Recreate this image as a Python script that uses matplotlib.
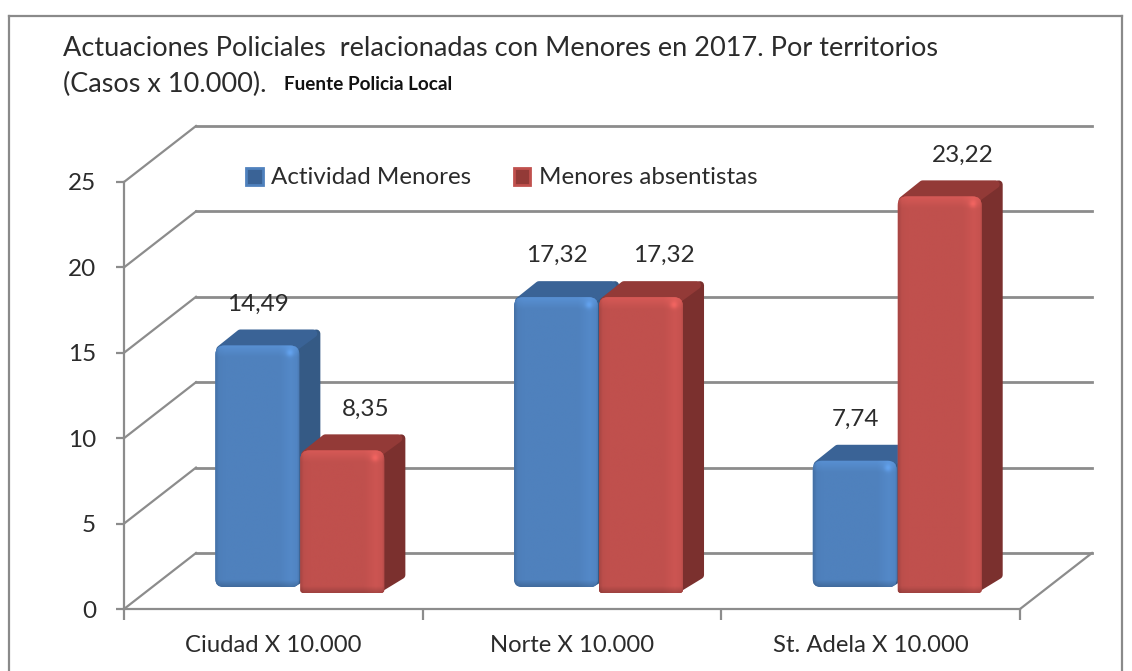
import numpy as np
import matplotlib
matplotlib.use("Agg")
import matplotlib.pyplot as plt
from matplotlib.lines import Line2D
from matplotlib.patches import PathPatch, Patch, Polygon
from matplotlib.path import Path

categories = ["Ciudad X 10.000", "Norte X 10.000", "St. Adela X 10.000"]
actividad = [14.49, 17.32, 7.74]
absentistas = [8.35, 17.32, 23.22]
actividad_labels = ["14,49", "17,32", "7,74"]
absentistas_labels = ["8,35", "17,32", "23,22"]
y_ticks = [0, 5, 10, 15, 20, 25]

W, H = 1132, 671
AX_L, AX_R, AX_T, AX_B = 124, 1020, 182, 609  # axes box in px

plt.rcParams['font.family'] = ['Lato', 'DejaVu Sans']

PX_X = 3.0 / (AX_R - AX_L)  # data units per px
PX_Y = 25.0 / (AX_B - AX_T)

WALL_X, WALL_Y = 72 * PX_X, 56 * PX_Y  # depth of the walls
BAR_X, BAR_Y = 21 * PX_X, 16 * PX_Y  # depth of one bar
BASE = 16 * PX_Y  # bars stand this far back on the floor
BAR_W = 84 * PX_X
GRID = "#8c8c8c"
TXT = "#2b2b2b"


def rounded(x0, x1, y0, y1, r_top, r_bot):
    # rounded box, radius in px
    tx, ty = r_top * PX_X, r_top * PX_Y
    bx, by = r_bot * PX_X, r_bot * PX_Y
    verts = [(x0 + bx, y0), (x1 - bx, y0), (x1, y0), (x1, y0 + by),
             (x1, y1 - ty), (x1, y1), (x1 - tx, y1),
             (x0 + tx, y1), (x0, y1), (x0, y1 - ty),
             (x0, y0 + by), (x0, y0), (x0 + bx, y0), (x0 + bx, y0)]
    codes = [Path.MOVETO, Path.LINETO, Path.CURVE3, Path.CURVE3,
             Path.LINETO, Path.CURVE3, Path.CURVE3,
             Path.LINETO, Path.CURVE3, Path.CURVE3,
             Path.LINETO, Path.CURVE3, Path.CURVE3, Path.CLOSEPOLY]
    return Path(verts, codes)


def shading(rgb, w, h):
    # soft bevel on the front face, with the small glint near the top right corner
    nx, ny = 170, 300
    u = (np.arange(nx) + 0.5) / nx * w
    v = (np.arange(ny) + 0.5) / ny * h  # from the top
    fx = np.interp(u, [0, 4, 10, w - 20, w - 8, w - 2, w], [0.86, 0.98, 1, 1, 1.06, 1.03, 0.94])
    fy = np.interp(v, [0, 3, 12, h - 7, h], [1.12, 1.09, 1, 1, 0.82])
    uu, vv = np.meshgrid(u, v)
    glint = 0.16 * np.exp(-((uu - (w - 9)) ** 2 + (vv - 8) ** 2) / 14.0)
    img = np.zeros((ny, nx, 3))
    for c in range(3):
        img[:, :, c] = np.clip(rgb[c] * (np.outer(fy, fx) + glint), 0, 1)
    return img


def draw_bar(ax, x, value, front, top, side, r_bot, lift, z):
    x1 = x + BAR_W
    y0 = BASE
    y1 = BASE + value
    # side and top faces, thick round edges give the soft corners
    ax.add_patch(Polygon([(x1 - 6 * PX_X, y0 + lift + 4 * PX_Y), (x1 + BAR_X - 4 * PX_X, y0 + BAR_Y + lift + 2 * PX_Y),
                          (x1 + BAR_X - 4 * PX_X, y1 + BAR_Y - 4 * PX_Y), (x1 - 6 * PX_X, y1 - 8 * PX_Y)],
                         closed=True, fc=side, ec=side, lw=5.8, joinstyle="round",
                         clip_on=False, zorder=z))
    ax.add_patch(Polygon([(x + 5 * PX_X, y1 - 4 * PX_Y), (x + BAR_X + 4 * PX_X, y1 + BAR_Y - 4 * PX_Y),
                          (x1 + BAR_X - 7 * PX_X, y1 + BAR_Y - 4 * PX_Y), (x1 - 8 * PX_X, y1 - 4 * PX_Y)],
                         closed=True, fc=top, ec=top, lw=5.8, joinstyle="round",
                         clip_on=False, zorder=z + 0.1))
    # front face with its bevel
    path = rounded(x, x1, y0 + lift, y1, 9, r_bot)
    patch = PathPatch(path, fc=front, ec="none", clip_on=False, zorder=z + 0.2)
    ax.add_patch(patch)
    rgb = matplotlib.colors.to_rgb(front)
    im = ax.imshow(shading(rgb, BAR_W / PX_X, (y1 - y0 - lift) / PX_Y),
                   extent=(x, x1, y0 + lift, y1), aspect="auto",
                   origin="upper", zorder=z + 0.3)
    im.set_clip_path(patch)


fig = plt.figure(figsize=(W / 100, H / 100), dpi=100)
fig.patch.set_facecolor("white")
ax = fig.add_axes([AX_L / W, 1 - AX_B / H, (AX_R - AX_L) / W, (AX_B - AX_T) / H])
ax.set_facecolor("none")
ax.set_autoscale_on(False)
ax.set_xlim(-0.5, 2.5)
ax.set_ylim(0, 25)

# outer frame of the chart
for xs, ys in [([9, 9], [16, 671]), ([9, 1122], [16, 16]), ([1122, 1122], [16, 671])]:
    fig.add_artist(Line2D([x / W for x in xs], [1 - y / H for y in ys], color="#8a8a8a", lw=1.6))

# walls and grid
for v in y_ticks:
    ax.plot([-0.5 + WALL_X, 2.5 + WALL_X], [v + WALL_Y, v + WALL_Y], color=GRID, lw=2, clip_on=False, zorder=1)
    ax.plot([-0.5, -0.5 + WALL_X], [v, v + WALL_Y], color=GRID, lw=1.6, clip_on=False, zorder=1)
ax.plot([2.5, 2.5 + WALL_X], [0, WALL_Y], color=GRID, lw=1.6, clip_on=False, zorder=1)

# bars
for i in range(len(categories)):
    draw_bar(ax, i - 58 * PX_X, actividad[i], "#4F81BD", "#3A6396", "#355A85", 8, 6 * PX_Y, 3)
    draw_bar(ax, i + 27 * PX_X, absentistas[i], "#C0504D", "#933A37", "#7B302E", 3, 0, 4)
    ax.text(i - 58 * PX_X + BAR_W / 2 + 1 * PX_X, BASE + actividad[i] + 41.5 * PX_Y, actividad_labels[i],
            ha="center", va="center", fontsize=17.5, color=TXT, zorder=6)
    ax.text(i + 27 * PX_X + BAR_W / 2 + 23 * PX_X, BASE + absentistas[i] + 41.5 * PX_Y, absentistas_labels[i],
            ha="center", va="center", fontsize=17.5, color=TXT, zorder=6)

ax.set_xlim(-0.5, 2.5)
ax.set_ylim(0, 25)

# axes
for s in ["top", "right"]:
    ax.spines[s].set_visible(False)
for s in ["left", "bottom"]:
    ax.spines[s].set_color(GRID)
    ax.spines[s].set_linewidth(1.6)
ax.set_yticks(y_ticks)
ax.set_xticks([-0.5, 0.5, 1.5, 2.5])
ax.set_xticklabels([])
ax.set_xticks([0, 1, 2], minor=True)
ax.set_xticklabels(categories, minor=True, fontsize=17.2, color=TXT)
ax.tick_params(axis="x", which="major", length=8, width=1.6, color=GRID)
ax.tick_params(axis="x", which="minor", length=0, pad=19)
ax.tick_params(axis="y", length=6, width=1.6, color=GRID, labelsize=17.5, labelcolor=TXT, pad=14)

# legend
handles = [Patch(fc="#3A6396", ec="#4F81BD", lw=2, label="Actividad Menores"),
           Patch(fc="#933A37", ec="#C0504D", lw=2, label="Menores absentistas")]
fig.legend(handles=handles, ncol=2, frameon=False, loc="center left",
           bbox_to_anchor=(224 / W, 1 - 178 / H), fontsize=17.4, handlelength=0.7, handleheight=0.7,
           handletextpad=0.35, columnspacing=1.75, labelcolor=TXT)

# title
fig.text(63 / W, 1 - 49 / H, "Actuaciones Policiales  relacionadas con Menores en 2017. Por territorios",
         fontsize=19.5, color=TXT, ha="left", va="center")
fig.text(63 / W, 1 - 84 / H, "(Casos x 10.000).", fontsize=19.5, color=TXT, ha="left", va="center")
fig.text(284 / W, 1 - 85 / H, "Fuente Policia Local", fontsize=13.6, fontweight="bold", color="#111111",
         ha="left", va="center")

fig.savefig("out.png", dpi=100)
